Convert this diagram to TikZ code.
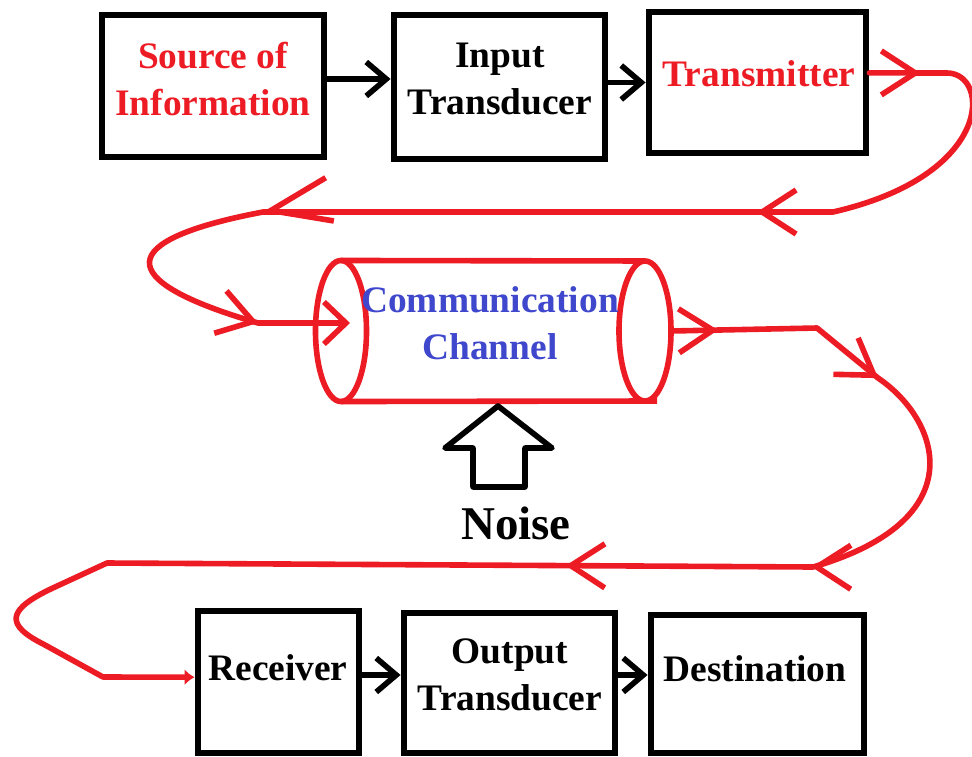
\documentclass[tikz,border=0pt]{standalone}
\usepackage{fontspec}
\setmainfont{Liberation Serif}
\usetikzlibrary{arrows.meta,shapes.geometric,decorations.markings}
\definecolor{paintred}{RGB}{237,28,36}
\definecolor{paintblue}{RGB}{63,72,204}

\begin{document}
\begin{tikzpicture}[
    x=0.025cm, y=-0.025cm,
    box/.style={draw, line width=0.17cm, inner sep=0pt},
    lbl/.style={font=\fontsize{26.6}{33}\selectfont\bfseries, align=center, inner sep=0pt},
    pipe/.style={draw=paintred, ellipse, line width=0.14cm, inner sep=0pt, outer sep=0pt},
    link/.style={line width=0.14cm, -{Straight Barb[length=0.5cm, width=0.85cm]}},
    signal/.style={paintred, line width=0.14cm, line cap=round, line join=round, postaction={decorate}},
    rtip/.tip={Straight Barb[length=0.85cm, width=1.1cm]}
]
\useasboundingbox (0,0) rectangle (972,756);

% top row
\node[box, minimum width=5.55cm, minimum height=3.55cm] (src) at (213,86) {};
\node[box, minimum width=5.275cm, minimum height=3.6cm] (inp) at (499.5,87) {};
\node[box, minimum width=5.425cm, minimum height=3.525cm] (tx) at (757.5,82.5) {};
\node[lbl, paintred] (srcT) at (213,79) {Source of\\Information};
\node[lbl] (inpT) at (500,79) {Input\\Transducer};
\node[lbl, paintred] (txT) at (759,74) {Transmitter};

% bottom row
\node[box, minimum width=4.025cm, minimum height=3.55cm] (rcv) at (278.5,682) {};
\node[box, minimum width=5.275cm, minimum height=3.5cm] (out) at (509.5,683) {};
\node[box, minimum width=5.325cm, minimum height=3.45cm] (dst) at (757.5,684) {};
\node[lbl] (rcvT) at (278,668) {Receiver};
\node[lbl] (outT) at (510,675) {Output\\Transducer};
\node[lbl] (dstT) at (755,669) {Destination};

\draw[link] (src.east |- srcT) -- (inp.west |- srcT);
\draw[link] (inp.east |- tx) -- (tx.west);
\draw[link] (rcv.east |- outT) -- (out.west |- outT);
\draw[link] (out.east |- outT) -- (dst.west |- outT);

% channel
\node[pipe, minimum width=1.275cm, minimum height=3.525cm] (chanL) at (341,331) {};
\node[pipe, minimum width=1.3cm, minimum height=3.5cm] (chanR) at (645,331) {};
\draw[paintred, line width=0.14cm] (chanL.north) -- (chanR.north)
    (chanL.south) -- (chanR.south) -- ++(12,0);
\node[lbl, paintblue] (chanT) at (490,323) {Communication\\Channel};
\coordinate (chanIn) at (350,323);

% noise
\draw[line width=0.14cm, line join=round] (498,406) -- (552,448) -- (525,448) -- (525,487)
    -- (473,487) -- (473,448) -- (445,448) -- cycle;
\node[lbl, font=\fontsize{33.4}{40}\selectfont\bfseries] (noise) at (516,523) {Noise};

% signal path
\draw[signal, -{Straight Barb[length=0.55cm, width=1.05cm]}, decoration={markings,
    mark=at position 1.275cm with {\arrow{rtip}},
    mark=at position 9.675cm with {\arrow{rtip}},
    mark=at position 22.025cm with {\arrow{Straight Barb[length=1.5cm, width=1.1cm]}},
    mark=at position -2.3cm with {\arrow{rtip}}}]
  ([yshift=0.24cm]tx.east) -- (947,73) .. controls (990,73) and (995,175) .. (833,212)
  -- (263,212) .. controls (115,240) and (110,280) .. (258,323) -- (chanIn);

\draw[signal, -{Latex[length=0.25cm, width=0.4cm]}, decoration={markings,
    mark=at position 1.175cm with {\arrow{rtip}},
    mark=at position 5.625cm with {\arrow{rtip}},
    mark=at position 12.43cm with {\arrow{rtip}},
    mark=at position 18.58cm with {\arrow{rtip}}}]
  (chanR.east) -- (817,328) -- (878,378) .. controls (940,420) and (975,520) .. (813,567)
  -- (107,563) -- (55,587) .. controls (5,610) and (5,625) .. (45,645) -- (103,677)
  -- ([yshift=0.12cm]rcv.west);

\end{tikzpicture}
\end{document}
